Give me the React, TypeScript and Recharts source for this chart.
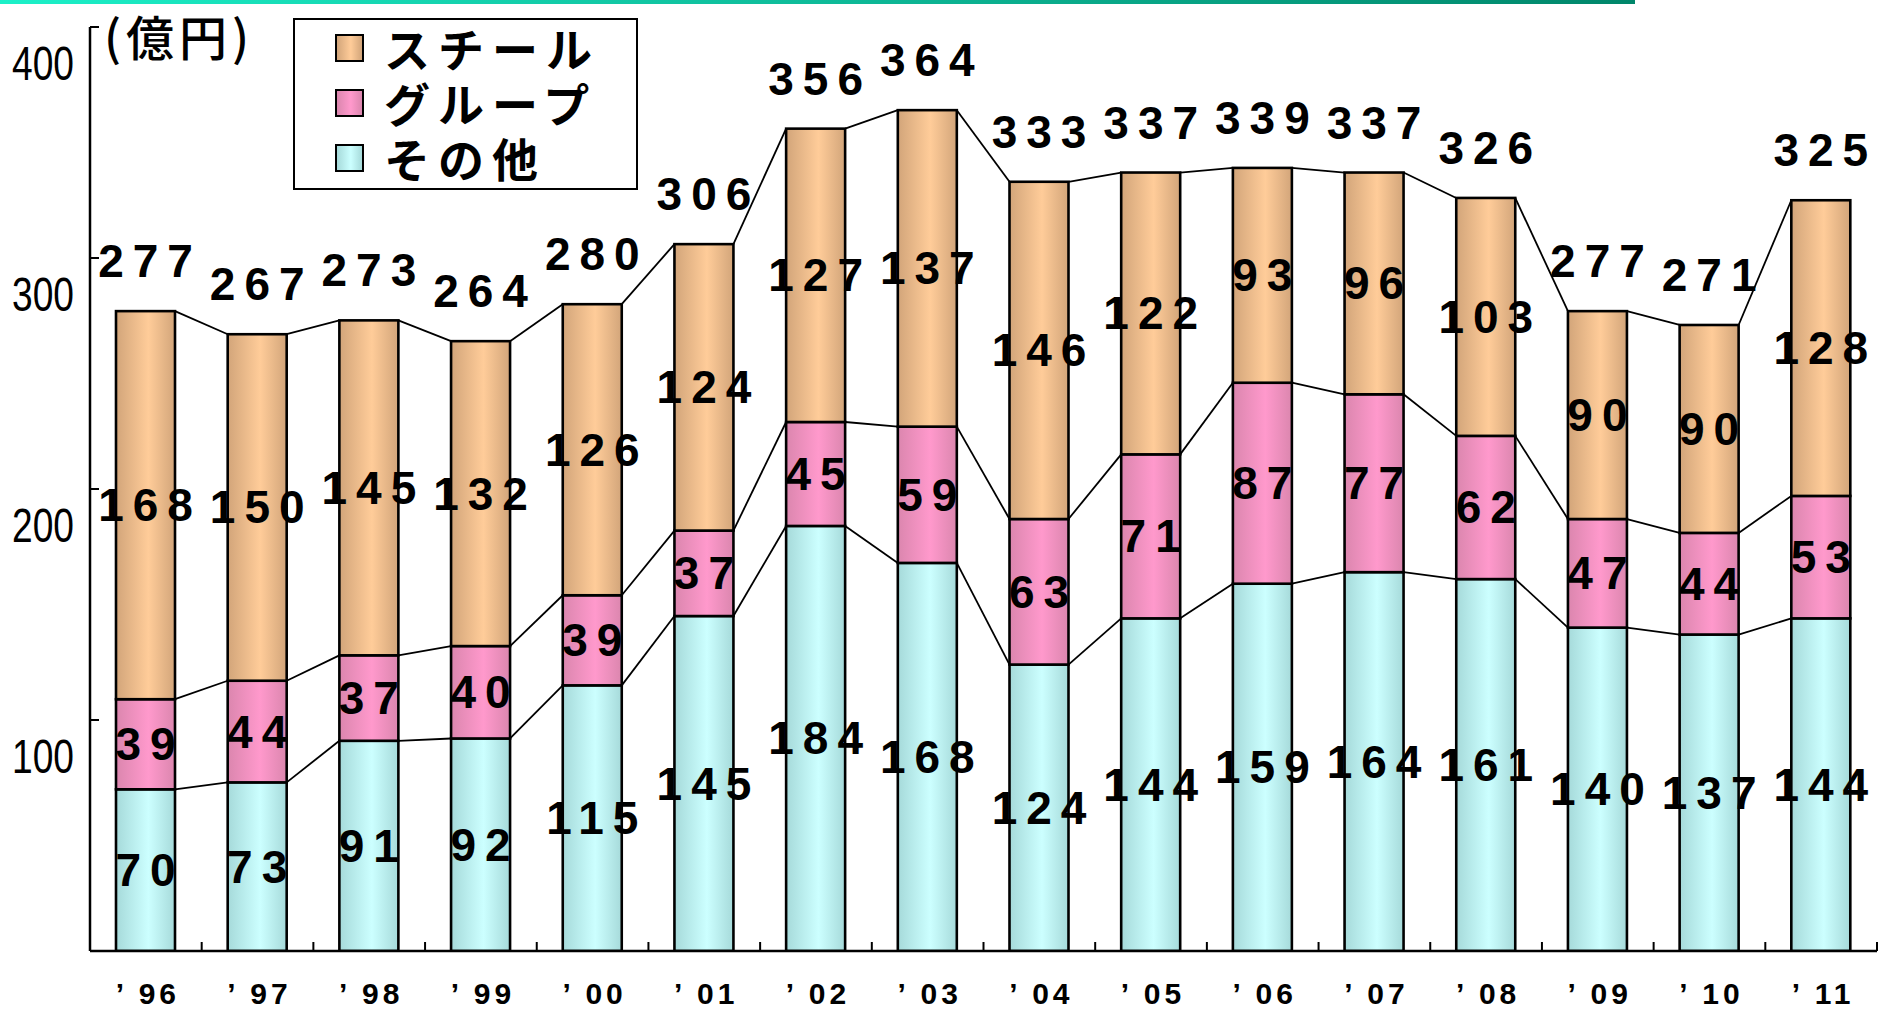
import React from 'react';
import { BarChart, Bar, XAxis, YAxis, LabelList, Legend } from 'recharts';

// Fiscal years (last two digits)
const categories = ['96', '97', '98', '99', '00', '01', '02', '03', '04', '05', '06', '07', '08', '09', '10', '11'];

// 億円, bottom → top of each stack
const otherValues = [70, 73, 91, 92, 115, 145, 184, 168, 124, 144, 159, 164, 161, 140, 137, 144];
const groupValues = [39, 44, 37, 40, 39, 37, 45, 59, 63, 71, 87, 77, 62, 47, 44, 53];
const steelValues = [168, 150, 145, 132, 126, 124, 127, 137, 146, 122, 93, 96, 103, 90, 90, 128];

const yTicks = [0, 100, 200, 300, 400];

const seriesKeys = ['other', 'group', 'steel'];
const seriesNames = ['その他', 'グループ', 'スチール'];
const seriesValues = [otherValues, groupValues, steelValues];
const seriesEdge = ['#A6DADA', '#DB86AE', '#D2A57A'];
const seriesCenter = ['#CCFFFF', '#FF99CC', '#FFCC99'];

const totals = categories.map((_, i) => otherValues[i] + groupValues[i] + steelValues[i]);

const data = categories.map((year, i) => ({
  year,
  other: otherValues[i],
  group: groupValues[i],
  steel: steelValues[i],
}));

// Layout
const W = 1881;
const H = 1010;
const AXIS_W = 90;
const RIGHT = 4;
const TOP = 27;
const X_AXIS_H = 59;
const STEP = (W - AXIS_W - RIGHT) / categories.length;

const VALUE_FONT = "'Liberation Sans', Arial, sans-serif";
const JP_FONT = "'Noto Sans CJK JP', 'Noto Sans', sans-serif";
const VALUE_SIZE = 46;
const VALUE_SPACING = 9;

const cumulative = (i: number, k: number) => {
  let s = 0;
  for (let j = 0; j <= k; j++) s += seriesValues[j][i];
  return s;
};

// Bar segment with a connector to the same stack level of the next year
const makeBarShape = (k: number) => (props: any) => {
  const { x, y, width, height, index } = props;
  const v = seriesValues[k][index];
  const perUnit = v ? height / v : 0;
  let connector = null;
  if (index < categories.length - 1) {
    const rise = (cumulative(index + 1, k) - cumulative(index, k)) * perUnit;
    connector = (
      <line
        x1={x + width}
        y1={y}
        x2={x + STEP}
        y2={y - rise}
        stroke="#000"
        strokeWidth={1.8}
      />
    );
  }
  return (
    <g>
      <rect x={x} y={y} width={width} height={height} fill={`url(#grad-${k})`} stroke="#000" strokeWidth={2.6} />
      {connector}
    </g>
  );
};

const renderSegmentLabel = (props: any) => {
  const { x, y, width, height, value } = props;
  return (
    <text
      x={x + width / 2 + VALUE_SPACING / 2}
      y={y + height / 2}
      textAnchor="middle"
      dominantBaseline="central"
      fontFamily={VALUE_FONT}
      fontWeight={700}
      fontSize={VALUE_SIZE}
      letterSpacing={VALUE_SPACING}
      fill="#000"
    >
      {value}
    </text>
  );
};

const renderTotalLabel = (props: any) => {
  const { x, y, width, index } = props;
  return (
    <text
      x={x + width / 2 + VALUE_SPACING / 2}
      y={y - 50}
      textAnchor="middle"
      dominantBaseline="central"
      fontFamily={VALUE_FONT}
      fontWeight={700}
      fontSize={VALUE_SIZE}
      letterSpacing={VALUE_SPACING}
      fill="#000"
    >
      {totals[index]}
    </text>
  );
};

const YTick = (props: any) => {
  const { x, y, payload } = props;
  if (payload.value === 0) return null;
  return (
    <g>
      <line x1={x} y1={y} x2={x + 9} y2={y} stroke="#000" strokeWidth={2} />
      <text
        x={x - 78}
        y={y + 36}
        textAnchor="start"
        dominantBaseline="central"
        fontFamily="'Liberation Sans Narrow', 'Liberation Sans', Arial, sans-serif"
        fontSize={49}
        textLength={62}
        lengthAdjust="spacingAndGlyphs"
        fill="#000"
      >
        {payload.value}
      </text>
    </g>
  );
};

const XTick = (props: any) => {
  const { x, y, payload } = props;
  return (
    <g>
      <line x1={x + STEP / 2} y1={y} x2={x + STEP / 2} y2={y - 9} stroke="#000" strokeWidth={2} />
      <text
        x={x + 2}
        y={y + 42}
        textAnchor="middle"
        dominantBaseline="central"
        fontFamily={VALUE_FONT}
        fontWeight={700}
        fontSize={30}
        letterSpacing={4}
        fill="#000"
      >
        {`’ ${payload.value}`}
      </text>
    </g>
  );
};

const renderLegend = () => (
  <div
    style={{
      boxSizing: 'border-box',
      width: 345,
      height: 172,
      border: '2px solid #000',
      background: '#fff',
      paddingTop: 0,
    }}
  >
    {[2, 1, 0].map((k) => (
      <div key={k} style={{ display: 'flex', alignItems: 'center', height: 55 }}>
        <div
          style={{
            marginLeft: 40,
            width: 29,
            height: 28,
            boxSizing: 'border-box',
            border: '2px solid #000',
            background: `linear-gradient(to right, ${seriesEdge[k]}, ${seriesCenter[k]} 55%, ${seriesEdge[k]})`,
          }}
        />
        <span
          style={{
            marginLeft: 20,
            fontFamily: JP_FONT,
            fontWeight: 700,
            fontSize: 46,
            letterSpacing: 8,
            lineHeight: '55px',
            color: '#000',
          }}
        >
          {seriesNames[k]}
        </span>
      </div>
    ))}
  </div>
);

export default function App() {
  return (
    <div style={{ position: 'absolute', left: 0, top: 0, width: W, height: H, background: '#fff', overflow: 'hidden' }}>
      <div
        style={{
          position: 'absolute',
          left: 0,
          top: 0,
          width: 1635,
          height: 4,
          background: 'linear-gradient(to right, #1CF0C8, #00866A)',
        }}
      />
      <div
        style={{
          position: 'absolute',
          left: 104,
          top: 7,
          fontFamily: JP_FONT,
          fontWeight: 500,
          fontSize: 48,
          letterSpacing: 5,
          lineHeight: '56px',
          color: '#000',
          zIndex: 2,
        }}
      >
        (億円)
      </div>
      <BarChart
        width={W}
        height={H}
        data={data}
        margin={{ top: TOP, right: RIGHT, bottom: 0, left: 0 }}
        barSize={59}
      >
        <defs>
          {seriesKeys.map((key, k) => (
            <linearGradient key={key} id={`grad-${k}`} x1="0" y1="0" x2="1" y2="0">
              <stop offset="0%" stopColor={seriesEdge[k]} />
              <stop offset="55%" stopColor={seriesCenter[k]} />
              <stop offset="100%" stopColor={seriesEdge[k]} />
            </linearGradient>
          ))}
        </defs>
        <XAxis
          dataKey="year"
          height={X_AXIS_H}
          interval={0}
          tickSize={0}
          tickMargin={0}
          tickLine={false}
          axisLine={{ stroke: '#000', strokeWidth: 2.5 }}
          tick={<XTick />}
        />
        <YAxis
          width={AXIS_W}
          domain={[0, 400]}
          ticks={yTicks}
          tickSize={0}
          tickMargin={0}
          tickLine={false}
          axisLine={{ stroke: '#000', strokeWidth: 2.5 }}
          tick={<YTick />}
          allowDataOverflow
        />
        <Legend
          layout="vertical"
          align="center"
          verticalAlign="middle"
          content={renderLegend}
          wrapperStyle={{ position: 'absolute', left: 293, top: 18, width: 345, height: 172 }}
        />
        {seriesKeys.map((key, k) => (
          <Bar
            key={key}
            dataKey={key}
            name={seriesNames[k]}
            stackId="total"
            fill={seriesCenter[k]}
            shape={makeBarShape(k)}
            isAnimationActive={false}
          >
            <LabelList dataKey={key} content={renderSegmentLabel} />
            {k === seriesKeys.length - 1 && <LabelList dataKey={key} content={renderTotalLabel} />}
          </Bar>
        ))}
      </BarChart>
    </div>
  );
}
